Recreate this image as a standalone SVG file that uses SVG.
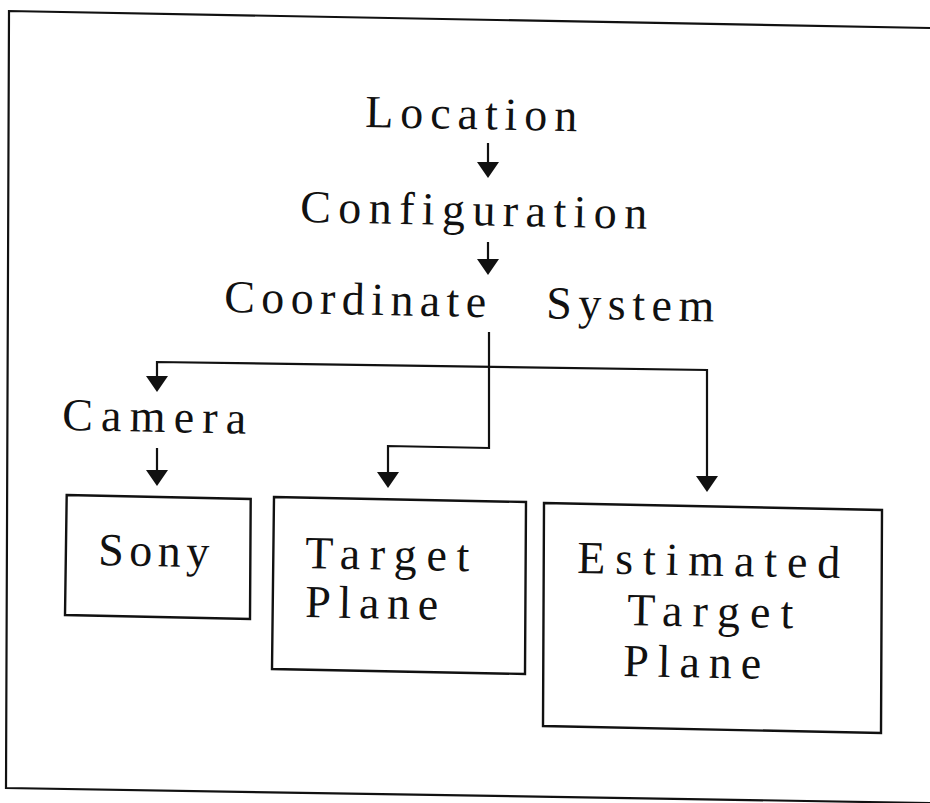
<svg xmlns="http://www.w3.org/2000/svg" width="930" height="803" viewBox="0 0 930 803">
  <style>
    .frame { fill: none; stroke: #111; stroke-width: 2.2; }
    .box { fill: none; stroke: #111; stroke-width: 2.4; }
    .wire { fill: none; stroke: #111; stroke-width: 2.2; stroke-linejoin: miter; }
    .head { fill: #111; stroke: none; }
    .lbl { font-family: "Liberation Serif", "Times New Roman", serif; font-size: 46px; fill: #111; }
  </style>

  <rect x="0" y="0" width="930" height="803" fill="#fff"/>

  <!-- outer border, slightly tilted like the rest of the sheet -->
  <path class="frame" d="M930,28 L9,11 L6,788 L930,803"/>

  <!-- connectors -->
  <g id="connectors">
    <!-- Location -> Configuration -->
    <line class="wire" x1="488" y1="143" x2="488" y2="165"/>
    <polygon class="head" points="477,162 499,162 488,178"/>
    <!-- Configuration -> Coordinate System -->
    <line class="wire" x1="488" y1="242" x2="488" y2="262"/>
    <polygon class="head" points="477,259 499,259 488,275"/>
    <!-- Coordinate System fan-out -->
    <line class="wire" x1="489" y1="332" x2="489" y2="367"/>
    <polyline class="wire" points="157,379 157,362 707,370 707,480"/>
    <polygon class="head" points="146,376 168,376 157,392"/>
    <polygon class="head" points="696,476 718,476 707,492"/>
    <!-- branch to Target Plane -->
    <polyline class="wire" points="489,367 489,448 388,446 388,475"/>
    <polygon class="head" points="377,472 399,472 388,488"/>
    <!-- Camera -> Sony -->
    <line class="wire" x1="157" y1="448" x2="157" y2="472"/>
    <polygon class="head" points="146,470 168,470 157,486"/>
  </g>

  <g id="node-location">
    <text class="lbl" x="365" y="127" textLength="212" lengthAdjust="spacing" transform="rotate(1.1 365 127)">Location</text>
  </g>

  <g id="node-configuration">
    <text class="lbl" x="300" y="222" textLength="347" lengthAdjust="spacing" transform="rotate(1.1 300 222)">Configuration</text>
  </g>

  <g id="node-coordinate-system">
    <text class="lbl" x="224" y="312" transform="rotate(1.1 224 312)"><tspan x="224" textLength="262" lengthAdjust="spacing">Coordinate</tspan><tspan x="546" textLength="168" lengthAdjust="spacing">System</tspan></text>
  </g>

  <g id="node-camera">
    <text class="lbl" x="62" y="430" textLength="184" lengthAdjust="spacing" transform="rotate(1.1 62 430)">Camera</text>
  </g>

  <g id="node-sony">
    <polygon class="box" points="66.7,495 250.7,499 250,619 65,615"/>
    <text class="lbl" x="98" y="565" textLength="111" lengthAdjust="spacing" transform="rotate(1.1 98 565)">Sony</text>
  </g>

  <g id="node-target-plane">
    <polygon class="box" points="274,497 526,502 525,674 272,669"/>
    <text class="lbl" x="305" y="568" textLength="164" lengthAdjust="spacing" transform="rotate(1.1 305 568)">Target</text>
    <text class="lbl" x="305" y="617" textLength="133" lengthAdjust="spacing" transform="rotate(1.1 305 617)">Plane</text>
  </g>

  <g id="node-estimated-target-plane">
    <polygon class="box" points="544,503 882,510 881,733 543,726"/>
    <text class="lbl" x="577" y="573" textLength="263" lengthAdjust="spacing" transform="rotate(1.1 577 573)">Estimated</text>
    <text class="lbl" x="627" y="625" textLength="166" lengthAdjust="spacing" transform="rotate(1.1 627 625)">Target</text>
    <text class="lbl" x="623" y="676" textLength="138" lengthAdjust="spacing" transform="rotate(1.1 623 676)">Plane</text>
  </g>
</svg>
